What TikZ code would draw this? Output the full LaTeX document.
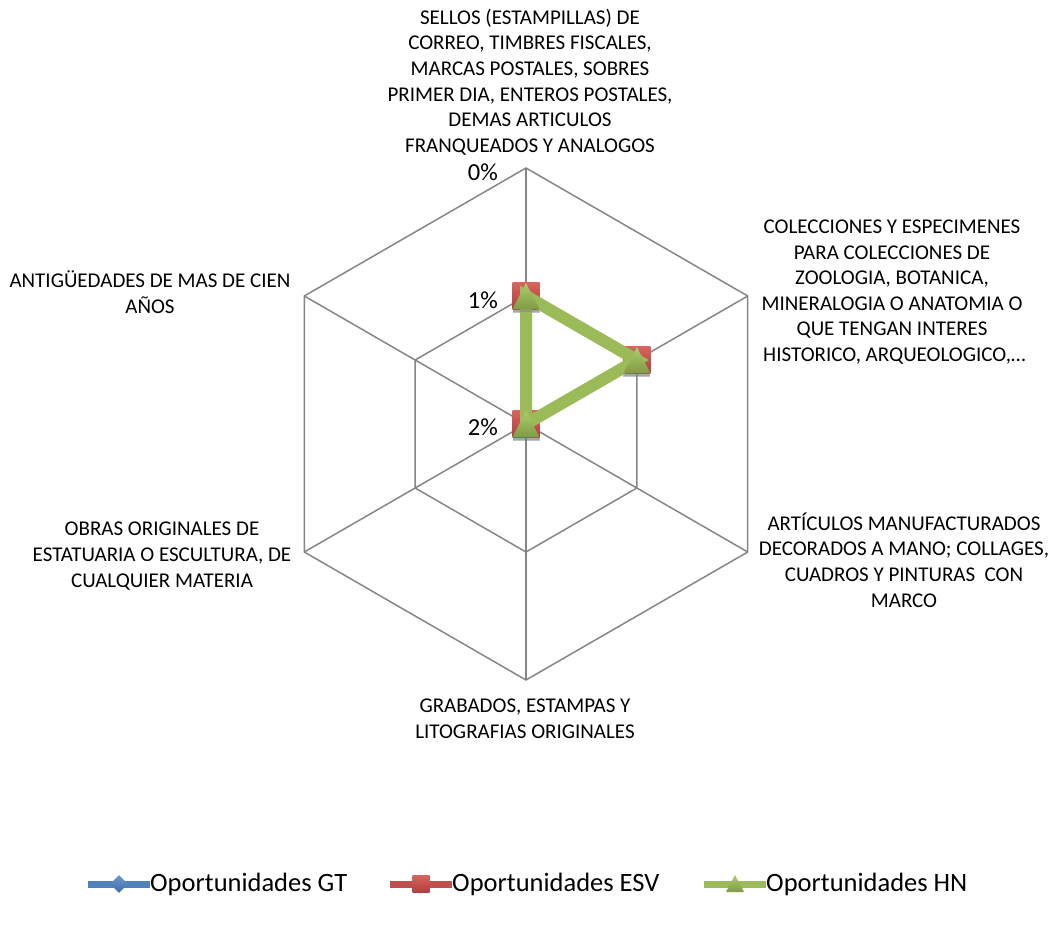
\documentclass[tikz,border=0pt]{standalone}
\usepackage{fontspec}
\setmainfont{Carlito}
\usetikzlibrary{shadows,shapes.geometric,calc}
\definecolor{axisgray}{HTML}{868686}
\definecolor{gtblue}{HTML}{4F81BD}
\definecolor{gtbluelight}{HTML}{6A97CF}
\definecolor{gtbluedark}{HTML}{3F6DA6}
\definecolor{esvred}{HTML}{C0504D}
\definecolor{esvredlight}{HTML}{D8635F}
\definecolor{esvreddark}{HTML}{B03E3B}
\definecolor{hngreen}{HTML}{9BBB59}
\definecolor{hngreenlight}{HTML}{AECB70}
\definecolor{hngreendark}{HTML}{7E9C43}
\begin{document}
\begin{tikzpicture}[x=1pt,y=-1pt,
  axis/.style={draw=axisgray,line width=1.5pt},
  catlabel/.style={align=center,inner sep=0pt,font=\fontsize{21}{25.6}\selectfont,text=black},
  ticklabel/.style={anchor=east,inner sep=0pt,font=\fontsize{24.5}{28}\selectfont,text=black},
  legtext/.style={anchor=west,inner sep=0pt,font=\fontsize{26.5}{30}\selectfont,text=black},
  esvline/.style={draw=esvred,line width=10pt,line join=round},
  hnline/.style={draw=hngreen,line width=12pt,line join=miter},
  esvmark/.style={rectangle,minimum size=27pt,inner sep=0pt,top color=esvredlight,bottom color=esvreddark,
    drop shadow={shadow xshift=0pt,shadow yshift=-3pt,opacity=0.45}},
  legsq/.style={rectangle,minimum size=17pt,inner sep=0pt,top color=esvredlight,bottom color=esvreddark},
  legdia/.style={diamond,minimum size=18pt,inner sep=0pt,top color=gtbluelight,bottom color=gtbluedark},
  legline/.style={line width=7pt},
  pics/hntri/.style={code={
    \path[top color=hngreenlight,bottom color=hngreendark,
      drop shadow={shadow xshift=0pt,shadow yshift=-3pt,opacity=0.45}]
      (-13.5,13) -- (0,-13) -- (13.5,13) -- cycle;}},
  pics/legtri/.style={code={
    \path[top color=hngreenlight,bottom color=hngreendark] (-9,8) -- (0,-9) -- (9,8) -- cycle;}},
]
\useasboundingbox (0,0) rectangle (1056,925);

% radar frame: centre, outer ring (0%) and inner ring (1%)
\coordinate (c) at (526,424);
\coordinate (o1) at (526,168);
\coordinate (o2) at (747.7,296);
\coordinate (o3) at (747.7,552);
\coordinate (o4) at (526,680);
\coordinate (o5) at (304.3,552);
\coordinate (o6) at (304.3,296);
\coordinate (i1) at (526,296);
\coordinate (i2) at (636.85,360);
\coordinate (i3) at (636.85,488);
\coordinate (i4) at (526,552);
\coordinate (i5) at (415.15,488);
\coordinate (i6) at (415.15,360);

\draw[axis] (o1) -- (o2) -- (o3) -- (o4) -- (o5) -- (o6) -- cycle;
\draw[axis] (i1) -- (i2) -- (i3) -- (i4) -- (i5) -- (i6) -- cycle;
\foreach \k in {1,...,6}{\draw[axis] (c) -- (o\k);}

% scale labels
\node[ticklabel] (t0) at (498,172) {0\%};
\node[ticklabel] (t1) at (498,300) {1\%};
\node[ticklabel] (t2) at (498,427) {2\%};

% category labels
\node[catlabel] (cat1) at (530,82) {SELLOS (ESTAMPILLAS) DE\\CORREO, TIMBRES FISCALES,\\MARCAS POSTALES, SOBRES\\PRIMER DIA, ENTEROS POSTALES,\\DEMAS ARTICULOS\\FRANQUEADOS Y ANALOGOS};
\node[catlabel] (cat2) at (892,292) {COLECCIONES Y ESPECIMENES\\PARA COLECCIONES DE\\ZOOLOGIA, BOTANICA,\\MINERALOGIA O ANATOMIA O\\QUE TENGAN INTERES\\\ HISTORICO, ARQUEOLOGICO,\dots};
\node[catlabel] (cat3) at (904,560) {ARTÍCULOS MANUFACTURADOS\\DECORADOS A MANO; COLLAGES,\\CUADROS Y PINTURAS\ \ CON\\MARCO};
\node[catlabel] (cat4) at (525,719) {GRABADOS, ESTAMPAS Y\\LITOGRAFIAS ORIGINALES};
\node[catlabel] (cat5) at (162,556) {OBRAS ORIGINALES DE\\ESTATUARIA O ESCULTURA, DE\\CUALQUIER MATERIA};
\node[catlabel] (cat6) at (150,292) {ANTIGÜEDADES DE MAS DE CIEN\\AÑOS};

% data points (ESV and HN share the same values)
\coordinate (d1) at (i1);
\coordinate (d2) at (i2);
\coordinate (d3) at (c);

% Oportunidades ESV
\draw[esvline] (d1) -- (d2) -- (d3) -- cycle;
\foreach \k in {1,2,3}{\node[esvmark] (esv\k) at (d\k) {};}

% Oportunidades HN
\draw[hnline] (d1) -- (d2) -- (d3) -- cycle;
\foreach \k in {1,2,3}{\pic at (d\k) {hntri};}

% legend
\coordinate (la1) at (88,884);  \coordinate (lb1) at (150,884);
\coordinate (la2) at (390,884); \coordinate (lb2) at (452,884);
\coordinate (la3) at (704,884); \coordinate (lb3) at (766,884);
\draw[legline,gtblue] (la1) -- (lb1);
\node[legdia] (lm1) at ($(la1)!0.5!(lb1)$) {};
\node[legtext] (lt1) at (lb1) {Oportunidades GT};
\draw[legline,esvred] (la2) -- (lb2);
\node[legsq] (lm2) at ($(la2)!0.5!(lb2)$) {};
\node[legtext] (lt2) at (lb2) {Oportunidades ESV};
\draw[legline,hngreen] (la3) -- (lb3);
\pic at ($(la3)!0.5!(lb3)$) {legtri};
\node[legtext] (lt3) at (lb3) {Oportunidades HN};
\end{tikzpicture}
\end{document}
